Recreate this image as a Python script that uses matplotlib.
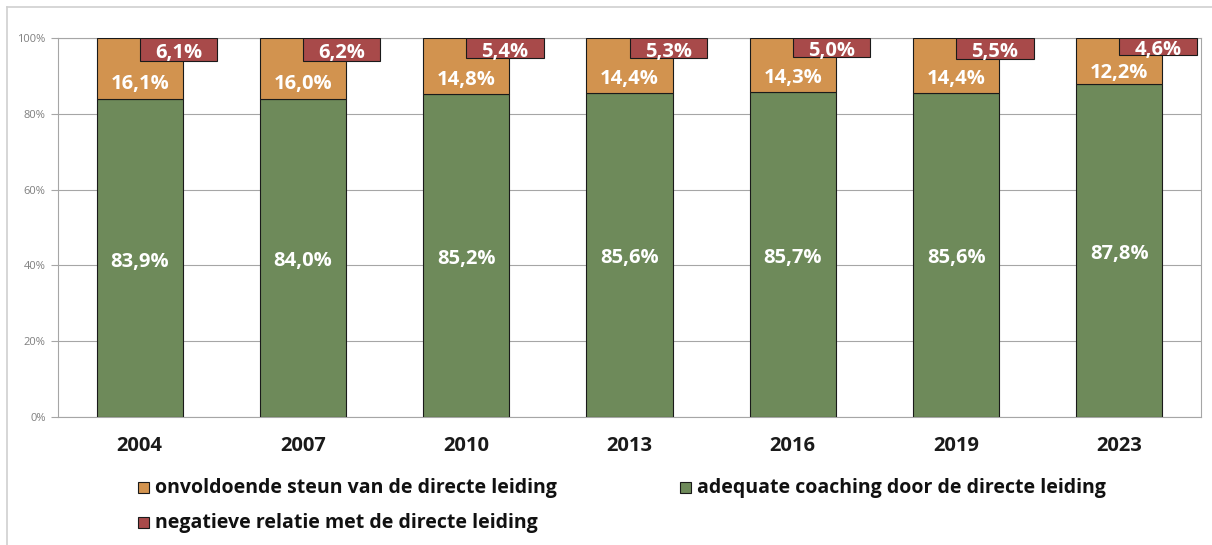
import matplotlib
matplotlib.use("Agg")
import matplotlib.pyplot as plt
from matplotlib.patches import Rectangle
from matplotlib.lines import Line2D
import matplotlib.transforms as mtransforms
import numpy as np

years = ["2004", "2007", "2010", "2013", "2016", "2019", "2023"]
adequate = [83.9, 84.0, 85.2, 85.6, 85.7, 85.6, 87.8]
onvoldoende = [16.1, 16.0, 14.8, 14.4, 14.3, 14.4, 12.2]
negatief = [6.1, 6.2, 5.4, 5.3, 5.0, 5.5, 4.6]
y_ticks = [0, 20, 40, 60, 80, 100]

labels = {
    "onv": "onvoldoende steun van de directe leiding",
    "adq": "adequate coaching door de directe leiding",
    "neg": "negatieve relatie met de directe leiding",
}

GREEN = "#6e8a5a"
ORANGE = "#d2934f"
RED = "#a84a4a"
EDGE = "#1a1a1a"
GRID = "#a6a6a6"

plt.rcParams["font.family"] = ["Open Sans", "DejaVu Sans"]

fig = plt.figure(figsize=(12.12, 5.45), dpi=100)
ax = fig.add_axes([58 / 1212, 1 - 417 / 545, (1201 - 58) / 1212, (417 - 38) / 545])

x = np.arange(len(years))
bw = 0.527
rw = 0.475

ax.bar(x, adequate, width=bw, color=GREEN, edgecolor=EDGE, linewidth=0.8, zorder=3)
ax.bar(x, onvoldoende, width=bw, bottom=adequate, color=ORANGE, edgecolor=EDGE,
       linewidth=0.8, zorder=3)
neg_bottom = [100 - v for v in negatief]
ax.bar(x, negatief, width=rw, bottom=neg_bottom, align="edge", color=RED,
       edgecolor=EDGE, linewidth=0.8, zorder=4)

def fmt(v):
    return f"{v:.1f}%".replace(".", ",")

# value labels sit a few pixels lower than the geometric centre
lbl_tr = ax.transData + mtransforms.ScaledTranslation(0, -3.5 / 100, fig.dpi_scale_trans)
lbl_kw = dict(ha="center", va="center", color="white", fontsize=14.5,
              fontweight="bold", zorder=5, transform=lbl_tr)

for i in range(len(years)):
    ax.text(x[i], adequate[i] / 2, fmt(adequate[i]), **lbl_kw)
    mid_o = (adequate[i] + neg_bottom[i]) / 2
    ax.text(x[i], mid_o, fmt(onvoldoende[i]), **lbl_kw)
    ax.text(x[i] + rw / 2, 100 - negatief[i] / 2, fmt(negatief[i]), **lbl_kw)

ax.set_xlim(-0.5, len(years) - 0.5)
ax.set_ylim(0, 100)
ax.set_yticks(y_ticks)
ax.set_yticklabels([f"{t}%" for t in y_ticks], color="#7f7f7f", fontsize=8)
ax.set_xticks(x)
ax.set_xticklabels(years, fontsize=14.5, fontweight="bold", color="#1a1a1a")
ax.tick_params(axis="x", length=0, pad=14)
ax.tick_params(axis="y", length=5, color=GRID, width=0.8, pad=4)
ax.yaxis.grid(True, color=GRID, linewidth=0.8, zorder=0)
ax.set_axisbelow(True)
for s in ax.spines.values():
    s.set_color(GRID)
    s.set_linewidth(0.8)

# outer chart frame
fig.add_artist(Line2D([7 / 1212, 1], [1 - 7 / 545, 1 - 7 / 545], color="#d0d0d0",
                      linewidth=1.2, transform=fig.transFigure))
fig.add_artist(Line2D([7 / 1212, 7 / 1212], [0, 1 - 7 / 545], color="#d0d0d0",
                      linewidth=1.2, transform=fig.transFigure))

# legend
def legend_item(px, py, color, text):
    sq = 11
    fig.add_artist(Rectangle((px / 1212, 1 - (py + sq / 2) / 545), sq / 1212, sq / 545,
                             facecolor=color, edgecolor=EDGE, linewidth=0.8,
                             transform=fig.transFigure))
    fig.text((px + sq + 6) / 1212, 1 - (py + 1) / 545, text, ha="left", va="center",
             fontsize=14, fontweight="bold", color="#111111")

legend_item(138, 487, ORANGE, labels["onv"])
legend_item(680, 487, GREEN, labels["adq"])
legend_item(138, 522, RED, labels["neg"])

fig.savefig("out.png", dpi=100, facecolor="white")
